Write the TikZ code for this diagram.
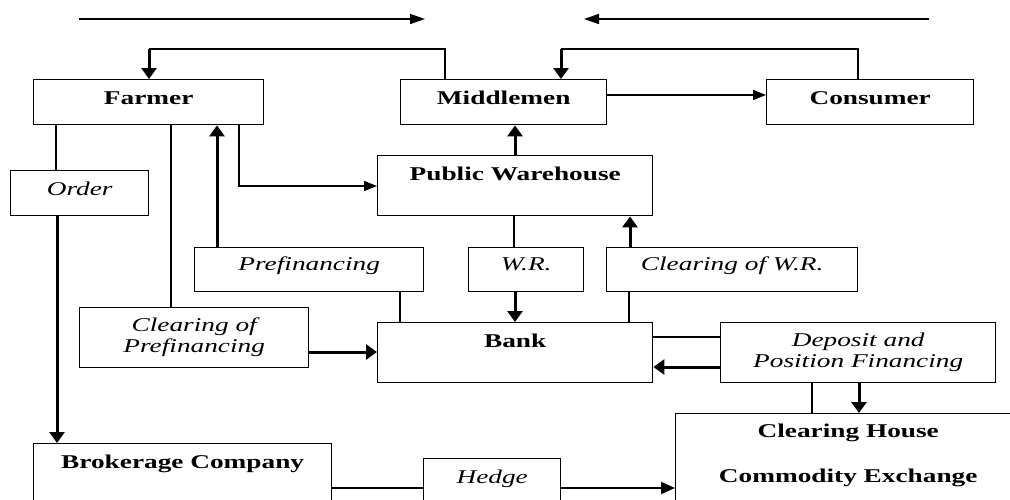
\documentclass[tikz,border=0pt]{standalone}
\usepackage{fontspec}
\setmainfont{Liberation Serif}[FakeStretch=1.40]
\usetikzlibrary{arrows.meta}
\begin{document}
\begin{tikzpicture}[x=1pt,y=-1pt,
  box/.style={draw,line width=1.4pt,inner sep=0pt,anchor=north west,font=\fontsize{19.5}{21}\selectfont},
  title/.style={box,font=\fontsize{19.5}{21}\selectfont\bfseries},
  label/.style={box,font=\fontsize{19.5}{21}\selectfont\itshape,align=center},
  thinline/.style={line width=1.3pt},
  thinarrow/.style={line width=1.5pt,-{Triangle[length=13pt,width=10pt]}},
  thickarrow/.style={line width=3pt,-{Triangle[length=11pt,width=15pt]}},
  midarrow/.style={line width=2pt,-{Triangle[length=14pt,width=12pt]}}
]
\useasboundingbox (0,0) rectangle (1010,499);
\fill[white] (0,0) rectangle (1010,499);
\clip (0,0) rectangle (1010,499);

% boxes
\node[title,minimum width=230pt,text height=25pt,text depth=20pt] (farmer) at (33,79) {Farmer};
\node[title,minimum width=206pt,text height=25pt,text depth=20pt] (middle) at (400,79) {Middlemen};
\node[title,minimum width=207pt,text height=25pt,text depth=20pt] (consumer) at (766,79) {Consumer};
\node[title,minimum width=275pt,text height=25pt,text depth=35pt] (warehouse) at (377,155) {Public Warehouse};
\node[label,minimum width=138pt,text height=25pt,text depth=20pt] (order) at (10,170) {Order};
\node[label,minimum width=229pt,text height=23pt,text depth=21pt] (prefin) at (194,247) {Prefinancing};
\node[label,minimum width=115pt,text height=23pt,text depth=21pt] (wr) at (468,247) {W.R.};
\node[label,minimum width=251pt,text height=23pt,text depth=21pt] (clearwr) at (606,247) {Clearing of W.R.};
\node[label,minimum width=229pt,minimum height=60pt] (clearpref) at (79,307) {Clearing of\\Prefinancing};
\node[title,minimum width=275pt,text height=25pt,text depth=35pt] (bank) at (377,322) {Bank};
\node[label,minimum width=275pt,minimum height=60pt] (deposit) at (720,322) {Deposit and\\Position Financing};
\node[title,align=center,minimum width=345pt,text height=69pt,text depth=28pt] (clearhouse) at (675,413) {Clearing House\\[24pt]Commodity Exchange};
\node[title,minimum width=298pt,text height=25pt,text depth=42pt] (broker) at (33,443) {Brokerage Company};
\node[label,minimum width=137pt,text height=25pt,text depth=27pt] (hedge) at (423,458) {Hedge};

% top direction arrows
\coordinate (t1s) at (79,19);
\coordinate (t1e) at (425,19);
\coordinate (t2s) at (929,19);
\coordinate (t2e) at (584,19);
\draw[thinarrow,-{Triangle[length=15pt,width=10pt]}] (t1s) -- (t1e);
\draw[thinarrow,-{Triangle[length=15pt,width=10pt]}] (t2s) -- (t2e);

% feedback loops
\coordinate (fbend) at (149,49);
\coordinate (mbend) at (561,49);
\draw[thinline] (445,0 |- middle.north) |- (fbend);
\draw[thickarrow] (fbend) -- (fbend |- farmer.north);
\draw[thinline] (858,0 |- consumer.north) |- (mbend);
\draw[thickarrow] (mbend) -- (mbend |- middle.north);

% connectors
\draw[thinarrow] (middle.east |- 0,95) -- (consumer.west |- 0,95);
\draw[thickarrow] (515,0 |- warehouse.north) -- (515,0 |- middle.south);
\draw[thinarrow] (239,0 |- farmer.south) |- (warehouse.west |- 0,186);
\draw[thickarrow] (217,0 |- prefin.north) -- (217,0 |- farmer.south);
\draw[thinline] (171,0 |- farmer.south) -- (171,0 |- clearpref.north);
\draw[thinline] (56,0 |- farmer.south) -- (56,0 |- order.north);
\draw[thickarrow] (57,0 |- order.south) -- (57,0 |- broker.north);
\draw[thinline] (514,0 |- warehouse.south) -- (514,0 |- wr.north);
\draw[thickarrow] (515,0 |- wr.south) -- (515,0 |- bank.north);
\draw[thickarrow] (630,0 |- clearwr.north) -- (630,0 |- warehouse.south);
\draw[thinline] (400,0 |- prefin.south) -- (400,0 |- bank.north);
\draw[thinline] (629,0 |- clearwr.south) -- (629,0 |- bank.north);
\draw[thickarrow] (clearpref.east |- 0,352) -- (bank.west |- 0,352);
\draw[thinline] (bank.east |- 0,337) -- (deposit.west |- 0,337);
\draw[thickarrow] (deposit.west |- 0,367) -- (bank.east |- 0,367);
\draw[thinline] (812,0 |- deposit.south) -- (812,0 |- clearhouse.north);
\draw[thickarrow] (859,0 |- deposit.south) -- (859,0 |- clearhouse.north);
\draw[thinline] (broker.east |- 0,488) -- (hedge.west |- 0,488);
\draw[midarrow] (hedge.east |- 0,488) -- (clearhouse.west |- 0,488);
\end{tikzpicture}
\end{document}
